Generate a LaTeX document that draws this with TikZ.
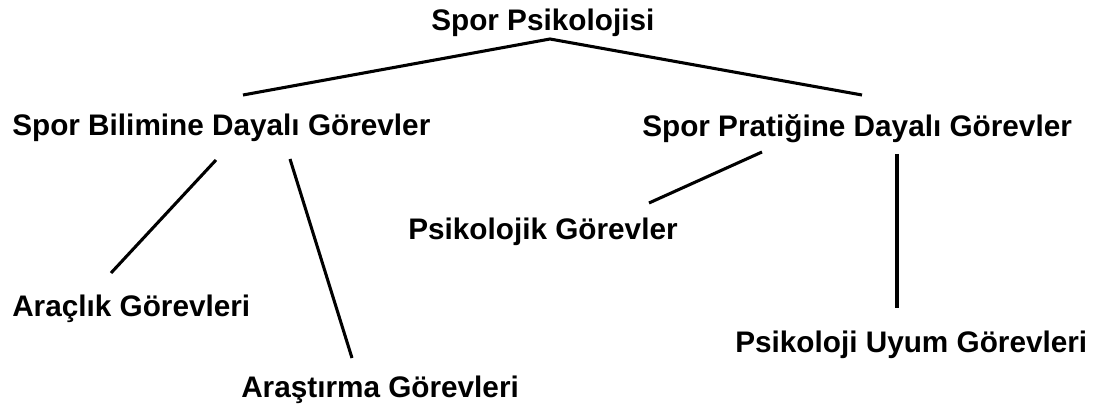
\documentclass[tikz,border=0pt]{standalone}
\usepackage{fontspec}
\setmainfont{Liberation Sans}
\begin{document}
\begin{tikzpicture}[x=0.75pt,y=-0.75pt,
  lbl/.style={anchor=base west,inner sep=0pt,font=\fontsize{22.3}{26}\selectfont\bfseries},
  conn/.style={line width=2.3pt}]
\useasboundingbox (0,0) rectangle (1096,409);
\node[lbl] (root) at (431,31) {Spor Psikolojisi};
\node[lbl] (bil) at (12,136) {Spor Bilimine Dayalı Görevler};
\node[lbl] (pra) at (642,137) {Spor Pratiğine Dayalı Görevler};
\node[lbl] (psi) at (408,240) {Psikolojik Görevler};
\node[lbl] (arac) at (12,317) {Araçlık Görevleri};
\node[lbl] (aras) at (241,398) {Araştırma Görevleri};
\node[lbl] (uyum) at (735,353) {Psikoloji Uyum Görevleri};
% connector ends
\coordinate (apex) at (550,39);
\coordinate (bilT) at (243,95);
\coordinate (praT) at (862,95);
\coordinate (bilA) at (216,160);
\coordinate (aracT) at (111,273);
\coordinate (bilB) at (290,159);
\coordinate (arasT) at (352,358);
\coordinate (praA) at (762,152);
\coordinate (psiT) at (649,203);
\coordinate (praB) at (897,154);
\coordinate (uyumT) at (897,308);
\draw[conn] (bilT) -- (apex) -- (praT);
\draw[conn] (bilA) -- (aracT);
\draw[conn] (bilB) -- (arasT);
\draw[conn] (praA) -- (psiT);
\draw[conn] (praB) -- (uyumT);
\end{tikzpicture}
\end{document}
